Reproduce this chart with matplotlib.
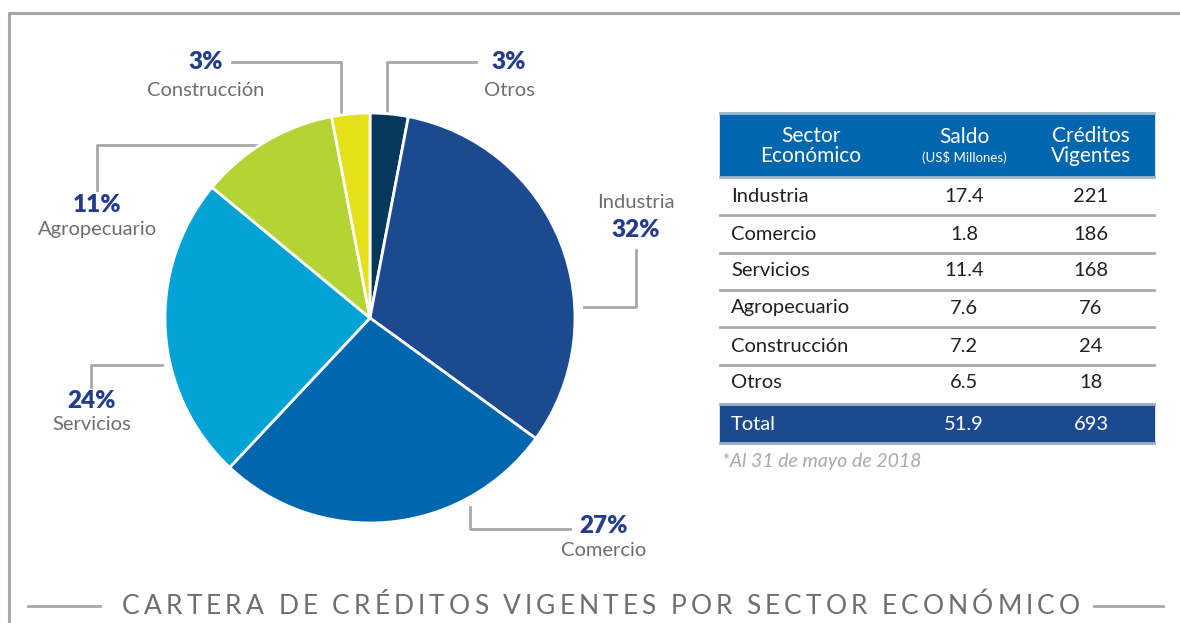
import matplotlib
matplotlib.use("Agg")
import matplotlib.pyplot as plt
from matplotlib.lines import Line2D
from matplotlib.patches import Rectangle

plt.rcParams["font.family"] = ["Lato", "DejaVu Sans"]

# pie data (clockwise from top)
sectors = ["Otros", "Industria", "Comercio", "Servicios", "Agropecuario", "Construcción"]
shares = [3, 32, 27, 24, 11, 3]
colors = ["#06385c", "#1b4a91", "#0066ad", "#00a3d4", "#b4d334", "#e4e01a"]

# table data
table_sectors = ["Industria", "Comercio", "Servicios", "Agropecuario", "Construcción", "Otros"]
saldo = ["17.4", "1.8", "11.4", "7.6", "7.2", "6.5"]
creditos = ["221", "186", "168", "76", "24", "18"]
total_saldo = "51.9"
total_creditos = "693"

W, H = 1180, 623
fig = plt.figure(figsize=(W / 100, H / 100), dpi=100)

# background axes in pixel coordinates
bg = fig.add_axes([0, 0, 1, 1])
bg.set_xlim(0, W)
bg.set_ylim(H, 0)
bg.axis("off")

GREY = "#a8a8aa"
NAVY = "#233d8c"
TXT = "#6d6e70"

# frame
bg.add_line(Line2D([9, 9, W], [H, 13, 13], color=GREY, lw=2.2))

# pie
cx, cy, r = 370, 318, 205
pax = fig.add_axes([(cx - r) / W, (H - cy - r) / H, 2 * r / W, 2 * r / H])
pax.pie(shares, colors=colors, startangle=90, counterclock=False,
        wedgeprops=dict(edgecolor="white", linewidth=2))
pax.set_xlim(-1, 1)
pax.set_ylim(-1, 1)
pax.set_aspect("equal")
pax.axis("off")

# leader lines
leaders = [
    ([341, 341, 232], [113, 62, 62]),
    ([387, 387, 476], [113, 62, 62]),
    ([584, 636, 636], [307, 307, 250]),
    ([470, 470, 570], [507, 529, 529]),
    ([162, 91, 91], [365, 365, 387]),
    ([262, 97, 97], [145, 145, 190]),
]
for xs, ys in leaders:
    bg.add_line(Line2D(xs, ys, color=GREY, lw=2))

# pie labels: (x, y_pct, y_name)
label_pos = {
    "Construcción": (206, 62, 90),
    "Otros": (509, 62, 90),
    "Industria": (636, 230, 202),
    "Comercio": (604, 526, 551),
    "Servicios": (92, 401, 424),
    "Agropecuario": (97, 205, 230),
}
for name, pct in zip(sectors, shares):
    x, yp, yn = label_pos[name]
    bg.text(x, yp, f"{pct}%", ha="center", va="center", fontsize=17.5,
            fontweight="heavy", color=NAVY)
    bg.text(x, yn, name, ha="center", va="center", fontsize=14.5, color=TXT)

# table
tx0, tx1 = 720, 1154
col_c = [811, 964, 1091]
bg.add_patch(Rectangle((tx0, 113), tx1 - tx0, 64, color="#0066ad"))
bg.add_line(Line2D([tx0, tx1], [113, 113], color="#9fb6cc", lw=2))
bg.add_line(Line2D([tx0, tx1], [177, 177], color="#9fb6cc", lw=2))
bg.text(col_c[0], 146, "Sector\nEconómico", ha="center", va="center",
        fontsize=15, color="white", linespacing=1.0)
bg.text(col_c[1], 137, "Saldo", ha="center", va="center", fontsize=15, color="white")
bg.text(col_c[1], 158, "(US$ Millones)", ha="center", va="center", fontsize=9.5, color="white")
bg.text(col_c[2], 146, "Créditos\nVigentes", ha="center", va="center",
        fontsize=15, color="white", linespacing=1.0)

row_y = [196, 234, 271, 308, 346, 383]
for i, (s, v, c) in enumerate(zip(table_sectors, saldo, creditos)):
    y = row_y[i]
    bg.text(731, y, s, ha="left", va="center", fontsize=14.5, color="#231f20")
    bg.text(col_c[1], y, v, ha="center", va="center", fontsize=14.5, color="#231f20")
    bg.text(col_c[2], y, c, ha="center", va="center", fontsize=14.5, color="#231f20")
    if i < len(table_sectors) - 1:
        bg.add_line(Line2D([tx0, tx1], [y + 19, y + 19], color="#a7a9ac", lw=2))

bg.add_patch(Rectangle((tx0, 404), tx1 - tx0, 39, color="#1b4a91"))
bg.add_line(Line2D([tx0, tx1], [404, 404], color="#9fb0c8", lw=2))
bg.add_line(Line2D([tx0, tx1], [443, 443], color="#9fb0c8", lw=2))
bg.text(731, 424, "Total", ha="left", va="center", fontsize=14.5, color="white")
bg.text(col_c[1], 424, total_saldo, ha="center", va="center", fontsize=14.5, color="white")
bg.text(col_c[2], 424, total_creditos, ha="center", va="center", fontsize=14.5, color="white")
bg.text(722, 462, "*Al 31 de mayo de 2018", ha="left", va="center", fontsize=14,
        color="#a7a9ac", style="italic")

# title with letter spacing
title = "CARTERA DE CRÉDITOS VIGENTES POR SECTOR ECONÓMICO"
x_left, x_right, ty = 122, 1080, 606
fig.canvas.draw()
renderer = fig.canvas.get_renderer()
chars = []
widths = []
for ch in title:
    t = bg.text(0, ty, ch if ch != " " else "I", ha="left", va="center",
                fontsize=19, color="#6d6e70")
    bb = t.get_window_extent(renderer)
    w = bb.width if ch != " " else bb.width * 0.9
    if ch == " ":
        t.set_text("")
    chars.append(t)
    widths.append(w)
gap = (x_right - x_left - sum(widths)) / (len(title) - 1)
x = x_left
for t, w in zip(chars, widths):
    t.set_x(x)
    x += w + gap
bg.add_line(Line2D([28, 100], [606, 606], color=GREY, lw=2))
bg.add_line(Line2D([1094, 1163], [606, 606], color=GREY, lw=2))

fig.savefig("out.png", dpi=100, facecolor="white")
